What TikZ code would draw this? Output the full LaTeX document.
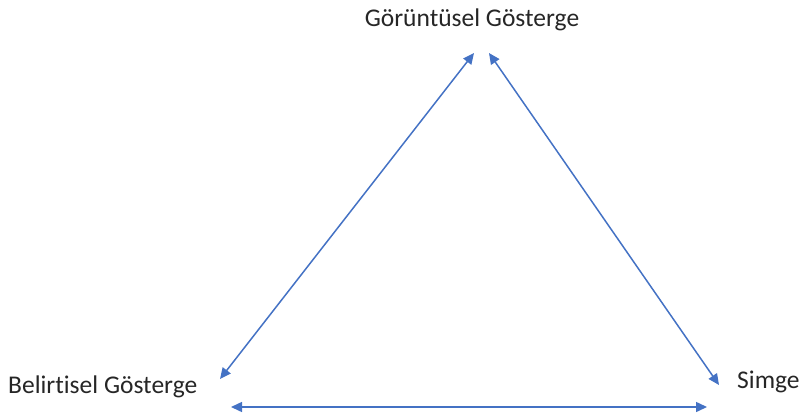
\documentclass[tikz,border=0pt]{standalone}
\usepackage{fontspec}
\setmainfont[Ligatures=NoCommon]{Carlito}
\usetikzlibrary{arrows.meta}
\definecolor{linkblue}{HTML}{4472C4}

\begin{document}
\begin{tikzpicture}[x=1pt, y=-1pt,
    label/.style={inner sep=0pt, text=black!85, font=\fontsize{25.5}{30}\selectfont},
    link/.style={linkblue, line width=1.5pt, {Triangle[length=11pt,width=10pt]}-{Triangle[length=11pt,width=10pt]}}]
    \useasboundingbox (0,0) rectangle (809,418);

    % Draw nodes
    \node[label] (goruntusel) at (472,20) {Görüntüsel Gösterge};
    \node[label, anchor=west] (belirtisel) at (8,387) {Belirtisel Gösterge};
    \node[label, anchor=west] (simge) at (737,382) {Simge};

    % Arrow ends
    \coordinate (topL) at (474,53);
    \coordinate (topR) at (489,53);
    \coordinate (botL) at (220,379);
    \coordinate (botR) at (719,385);
    \coordinate (baseL) at (231,407);
    \coordinate (baseR) at (707,407);

    % Draw connections
    \draw[link] (botL) -- (topL);
    \draw[link] (topR) -- (botR);
    \draw[link] (baseL) -- (baseR);
\end{tikzpicture}
\end{document}
